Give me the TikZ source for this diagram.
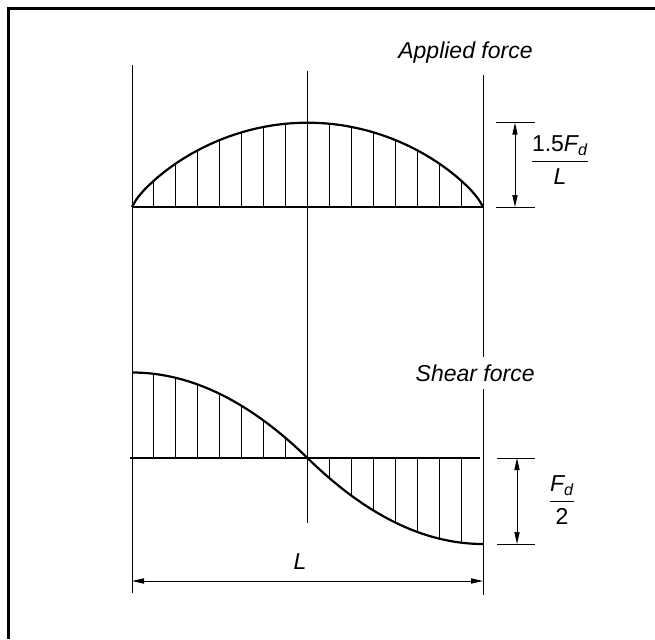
\documentclass[tikz,border=0pt]{standalone}
\usepackage{amsmath}
\usepackage{fontspec}
\setmainfont{Liberation Sans}
\usetikzlibrary{arrows.meta}

\tikzset{
  thinline/.style={line width=0.5pt},
  curveline/.style={line width=1.1pt},
  dimline/.style={line width=0.5pt,
    {Triangle[length=6pt,width=2.6pt]}-{Triangle[length=6pt,width=2.6pt]}},
  lbl/.style={font=\fontsize{11.5}{14}\selectfont\itshape, inner sep=1pt},
  fraclbl/.style={font=\fontsize{11.5}{14}\selectfont, inner sep=1pt},
}

\begin{document}
\begin{tikzpicture}[x=0.5pt, y=-0.5pt]
\useasboundingbox (0,0) rectangle (655,639);
% ============= frame =============
\draw[line width=1.3pt] (8.5,639) -- (8.5,8.5) -- (655,8.5);

% ============= vertical reference lines =============
\draw[thinline] (132,65) -- (132,593);
\draw[thinline] (307.5,71) -- (307.5,523);
\draw[thinline] (483,75) -- (483,595);

% ============= TOP: applied force =============
% baseline and curve
\draw[curveline] (132,207) -- (483,207);
\draw[curveline] plot[domain=0:1, samples=81, smooth]
  ({132+351*\x},{207-84.3*pow(4*\x*(1-\x)+0.00001,0.8)});
% hatching
\foreach \k in {1,...,15}{
  \pgfmathsetmacro{\hx}{132+351*\k/16}
  \pgfmathsetmacro{\hy}{207-84.3*pow(4*\k/16*(1-\k/16),0.8)}
  \draw[thinline] (\hx,207) -- (\hx,\hy);
}
\node[lbl, anchor=east] (applied) at (535,53) {Applied force};

% dimension of peak load
\coordinate (qtop) at (515,122.7);
\coordinate (qbot) at (515,207);
\draw[thinline] (496,122.7) -- (535,122.7);
\draw[thinline] (496,207) -- (535,207);
\draw[dimline] (qtop) -- (qbot);
\node[fraclbl] (qlab) at (560,160)
  {$\dfrac{\text{1.5}\textit{F}_{\textit{d}}}{\textit{L}}$};

% ============= BOTTOM: shear force =============
\draw[curveline] (130,458) -- (480,458);
\draw[curveline] (132,372.5) .. controls (190.5,372.5) and (249,401) .. (307.5,458)
  .. controls (366,515.3) and (424.5,544) .. (483,544);
% hatching, positive half
\foreach \k in {1,...,7}{
  \pgfmathsetmacro{\hx}{132+351*\k/16}
  \pgfmathsetmacro{\hy}{458-85.5*(1-(\k/8)^2)}
  \draw[thinline] (\hx,458) -- (\hx,\hy);
}
% hatching, negative half
\foreach \k in {9,...,15}{
  \pgfmathsetmacro{\hx}{132+351*\k/16}
  \pgfmathsetmacro{\hy}{458+86*(1-((16-\k)/8)^2)}
  \draw[thinline] (\hx,458) -- (\hx,\hy);
}
\node[lbl, anchor=east, fill=white, inner ysep=4pt] (shear) at (537,373) {Shear force};

% dimension of end shear
\coordinate (vtop) at (517,458);
\coordinate (vbot) at (517,544);
\draw[thinline] (497,458) -- (535,458);
\draw[thinline] (497,544) -- (535,544);
\draw[dimline] (vtop) -- (vbot);
\node[fraclbl] (vlab) at (562,500)
  {$\dfrac{\textit{F}_{\textit{d}}}{\text{2}}$};

% ============= span length =============
\coordinate (spanl) at (132,581);
\coordinate (spanr) at (483,581);
\draw[dimline] (spanl) -- (spanr);
\node[lbl] (span) at (300,562) {L};
\end{tikzpicture}
\end{document}
